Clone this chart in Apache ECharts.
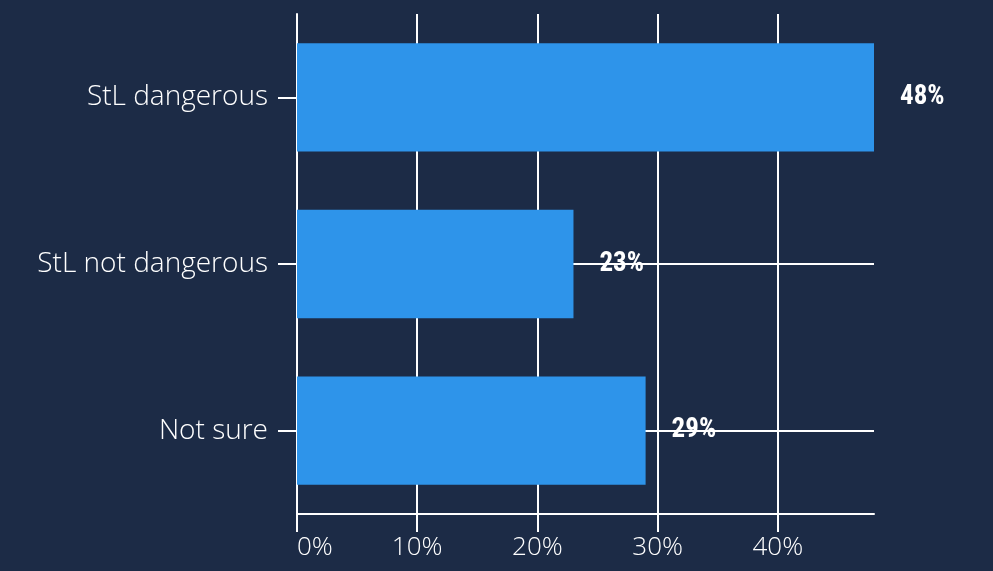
<!DOCTYPE html>
<html>
<head>
<meta charset="utf-8">
<script src="https://cdn.jsdelivr.net/npm/echarts@6/dist/echarts.min.js"></script>
<style>
html,body{margin:0;padding:0;background:#1c2b46;}
#chart{width:993px;height:571px;}
</style>
</head>
<body>
<div id="chart"></div>
<script>
const categories = ["StL dangerous", "StL not dangerous", "Not sure"];
const values = [48, 23, 29];
const xTicks = [0, 10, 20, 30, 40];

const chart = echarts.init(document.getElementById('chart'));
chart.setOption({
  backgroundColor: '#1c2b46',
  animation: false,
  grid: {left: 297, right: 119, top: 14, bottom: 57, containLabel: false},
  xAxis: {
    type: 'value', min: 0, max: 48, interval: 10,
    axisLine: {show: true, lineStyle: {color: '#ffffff', width: 2}},
    axisTick: {show: true, length: 18, customValues: xTicks, lineStyle: {color: '#ffffff', width: 2}},
    splitLine: {show: true, lineStyle: {color: '#ffffff', width: 2}},
    axisLabel: {
      color: '#ffffff', fontFamily: '"Open Sans", Lato, sans-serif', fontWeight: 300, fontSize: 26, margin: 21,
      alignMinLabel: 'left', customValues: xTicks,
      formatter: v => v + '%'
    }
  },
  yAxis: {
    type: 'category', data: categories, inverse: true,
    axisLine: {show: true, lineStyle: {color: '#ffffff', width: 2}},
    axisTick: {show: true, alignWithLabel: true, length: 19, lineStyle: {color: '#ffffff', width: 2}},
    splitLine: {show: true, alignWithLabel: true, lineStyle: {color: '#ffffff', width: 2}},
    axisLabel: {color: '#ffffff', fontFamily: '"Open Sans", Lato, sans-serif', fontWeight: 300, fontSize: 28, margin: 29, padding: [4, 0, 0, 0]}
  },
  series: [{
    type: 'bar', data: values, barCategoryGap: '35%',
    itemStyle: {color: '#2e94ea'},
    label: {
      show: true, position: 'right', distance: 26, color: '#ffffff',
      fontFamily: '"Liberation Sans Narrow", "Roboto Condensed", Roboto, sans-serif',
      fontWeight: 'bold', fontSize: 27, padding: [4, 0, 0, 0],
      formatter: p => p.value + '%'
    }
  }]
});
</script>
</body>
</html>
